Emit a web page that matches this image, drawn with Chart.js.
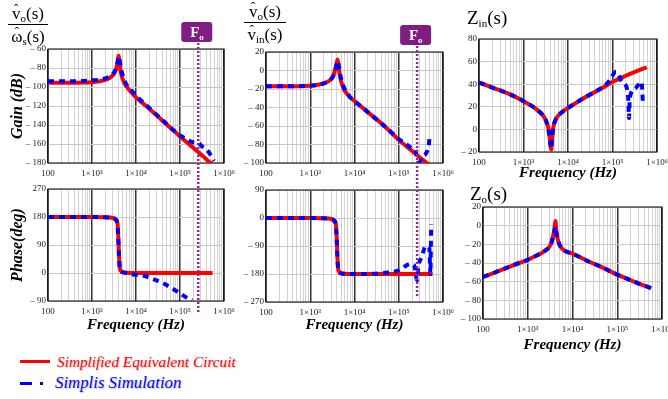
<!DOCTYPE html>
<html lang="en">
  <head>
    <meta charset="utf-8" />
    <style>
      html, body { margin: 0; padding: 0; background: #fff; overflow: hidden; }
      body { position: relative; width: 668px; height: 399px; }
      canvas { position: absolute; }
      .txt { position: absolute; font-family: "Liberation Serif", serif; color: #000; white-space: nowrap; }
      .frac { font-size: 17px; line-height: 17px; text-align: center; }
      .frac .num { border-bottom: 1px solid #000; padding-bottom: 2px; }
      .frac .den { padding-top: 3px; }
      .txt sub { font-size: 11px; line-height: 0; vertical-align: -3px; }
      .hat { position: relative; display: inline-block; }
      .hat::before { content: "\02C6"; position: absolute; left: 0; right: 0; top: -3px; text-align: center; font-size: 13px; line-height: 13px; }
      .name { font-size: 19px; line-height: 19px; }
      .legend { font-style: italic; line-height: 18px; text-shadow: 1px 1px 1.5px rgba(0, 0, 0, 0.25); }
      .swatch { position: absolute; height: 3px; }
    </style>
  </head>
  <body>
    <canvas id="gainWs" width="238" height="178" style="left: 0; top: 0"></canvas>
    <canvas id="gainVin" width="227" height="178" style="left: 230px; top: 0"></canvas>
    <canvas id="zin" width="221" height="182" style="left: 450px; top: 0"></canvas>
    <canvas id="phaseWs" width="238" height="156" style="left: 0; top: 178px"></canvas>
    <canvas id="phaseVin" width="227" height="156" style="left: 230px; top: 178px"></canvas>
    <canvas id="zo" width="226" height="172" style="left: 450px; top: 182px"></canvas>

    <div class="txt frac" style="left: 8px; top: 5px; width: 40px">
      <div class="num"><span class="hat">v</span><sub>o</sub>(s)</div>
      <div class="den"><span class="hat">&#969;</span><sub>s</sub>(s)</div>
    </div>
    <div class="txt frac" style="left: 244px; top: 3px; width: 42px">
      <div class="num"><span class="hat">v</span><sub>o</sub>(s)</div>
      <div class="den"><span class="hat">v</span><sub>in</sub>(s)</div>
    </div>
    <div class="txt name" style="left: 467px; top: 8px">Z<sub>in</sub>(s)</div>
    <div class="txt name" style="left: 470px; top: 184px">Z<sub>o</sub>(s)</div>

    <div class="swatch" style="left: 20px; top: 360px; width: 30px; background: #ff0000"></div>
    <div class="txt legend" style="left: 57px; top: 353px; color: #ff0000; font-size: 15.3px">Simplified Equivalent Circuit</div>
    <div class="swatch" style="left: 20px; top: 382px; width: 12px; background: #0000ff"></div>
    <div class="swatch" style="left: 40px; top: 382px; width: 3px; background: #0000ff"></div>
    <div class="txt legend" style="left: 55px; top: 374px; color: #0000ff; font-size: 16.8px">Simplis Simulation</div>

    <script src="https://cdn.jsdelivr.net/npm/chart.js@4.4.1/dist/chart.umd.min.js"></script>
    <script>
      const FO_FREQ = 2.6e5;
      const xTickValues = [100, 1e3, 1e4, 1e5, 1e6];
      const xTickLabels = ["100", "1×10³", "1×10⁴", "1×10⁵", "1×10⁶"];

      // vo/ws
      const gainWsFreqEq = [100, 300, 1000, 1500, 2000, 2500, 3000, 3300, 3600, 3850, 4000, 4150, 4300, 4600, 5000, 5500, 6000, 7000, 8000, 10000, 15000, 20000, 50000, 100000, 200000, 300000, 550000];
      const gainWsEq = [-95.5, -95.5, -95, -94, -92.5, -90.5, -87.5, -84.5, -79.5, -73, -67, -70, -78, -86, -92, -96, -99, -103, -106, -111, -118, -123, -139.5, -152, -164, -171, -182];
      const gainWsFreqSim = [100, 300, 1000, 2000, 3000, 3500, 3800, 4000, 4200, 4500, 5000, 6000, 8000, 10000, 20000, 50000, 100000, 130000, 180000, 220000, 260000, 300000, 440000, 590000];
      const gainWsSim = [-94, -94, -93, -91, -86, -81, -74, -68, -71, -79, -88, -97, -104, -109, -122, -139, -151, -154, -157.5, -158.5, -159, -161.5, -168, -178];
      const phaseWsFreqEq = [100, 1000, 2000, 3000, 3500, 3800, 3950, 4100, 4250, 4400, 4700, 5200, 6000, 8000, 10000, 100000, 550000];
      const phaseWsEq = [180, 180, 179, 177, 172, 160, 120, 60, 20, 10, 5, 2, 1, 0, 0, 0, 0];
      const phaseWsFreqSim = [100, 1000, 2000, 3000, 3500, 3800, 3950, 4100, 4250, 4400, 4800, 6000, 7300, 10000, 15000, 24000, 42000, 65000, 100000, 140000, 190000];
      const phaseWsSim = [180, 180, 179, 176, 170, 155, 115, 55, 18, 8, 3, 0, -3, -6, -9, -19, -33, -49, -65, -79, -88];

      // vo/vin
      const gainVinFreqEq = [100, 500, 1000, 1500, 2000, 2500, 3000, 3400, 3700, 3950, 4150, 4350, 4600, 5000, 5500, 6000, 7000, 8000, 10000, 13000, 20000, 50000, 100000, 200000, 300000, 550000];
      const gainVinEq = [-17, -17, -16.5, -15.5, -14, -12, -9, -4, 2, 8, 12, 5, -4, -12, -18, -22, -26, -29, -33, -37.5, -45, -61, -75, -87, -94, -104];
      const gainVinFreqSim = [100, 500, 1000, 2000, 3000, 3500, 3800, 4000, 4200, 4500, 5000, 6000, 8000, 10000, 20000, 50000, 100000, 150000, 200000, 240000, 250000, 260000, 290000, 350000, 420000, 480000, 500000];
      const gainVinSim = [-17, -17, -16.5, -14, -9, -3.5, 3, 8, 10, 2, -9, -20, -29, -33, -45, -61, -74, -80, -84, -86, -91, -96, -99, -93, -89, -80, -70];
      const phaseVinFreqEq = [100, 1000, 2000, 3000, 3500, 3800, 3950, 4100, 4250, 4400, 4700, 5200, 6000, 8000, 10000, 100000, 580000];
      const phaseVinEq = [0, 0, -1, -3, -8, -20, -60, -120, -160, -170, -175, -178, -179, -180, -180, -180, -180];
      const phaseVinFreqSim = [100, 1000, 2000, 3000, 3500, 3800, 3950, 4100, 4250, 4400, 4800, 6000, 10000, 30000, 58000, 100000, 160000, 185000, 220000, 260000, 275000, 330000, 410000, 490000, 520000, 530000, 540000];
      const phaseVinSim = [0, 0, -1, -4, -10, -25, -65, -125, -162, -172, -177, -179, -180, -179, -175, -168, -150, -147, -150, -200, -160, -125, -90, -93, -180, -100, -20];

      // Zin
      const zinFreqEq = [100, 200, 500, 1000, 1500, 2000, 2500, 3000, 3400, 3700, 3900, 4050, 4200, 4350, 4500, 4800, 5200, 6000, 7000, 8000, 10000, 20000, 50000, 100000, 200000, 300000, 590000];
      const zinEq = [41.5, 37, 31, 25, 21, 17.5, 14, 10, 5, -1, -8, -15, -18, -10, -3, 4, 8, 12, 14.5, 16.5, 19, 26.5, 35, 42, 47.5, 50.5, 55];
      const zinFreqSim = [100, 200, 500, 1000, 2000, 3000, 3500, 3800, 4000, 4200, 4400, 4700, 5200, 6000, 8000, 10000, 20000, 30000, 53000, 65000, 85000, 120000, 165000, 220000, 230000, 235000, 245000, 320000, 450000, 470000, 480000];
      const zinSim = [41.5, 37, 31, 25, 17.5, 10, 3, -5, -12, -17, -8, 2, 8, 12, 16.5, 19, 26.5, 30.5, 36, 38, 43, 51, 42, 33, 20, 10, 28, 36, 42, 32, 24];

      // Zo
      const zoFreq = [100, 200, 500, 1000, 1500, 2000, 2500, 3000, 3400, 3700, 3950, 4150, 4350, 4600, 5000, 5500, 6500, 8000, 10000, 20000, 50000, 100000, 200000, 300000, 580000];
      const zoEq = [-55, -49.5, -42, -36.5, -32.5, -29.5, -26.5, -23, -18, -11, -3, 5, -5, -13, -19, -23, -26.5, -28.5, -30, -37, -45.5, -52.5, -58.5, -62, -67];
      const zoSim = [-55, -49.5, -42, -36.5, -32.5, -29.5, -26.5, -23, -18, -11, -6, -1, -8, -13, -19, -23, -26.5, -28.5, -30, -37, -45.5, -52.5, -58.5, -62, -67];

      // y ranges: [min, max, step]
      const gainWsRange = [-180, -60, 20];
      const gainVinRange = [-100, 20, 20];
      const zinRange = [-20, 80, 20];
      const phaseWsRange = [-90, 270, 90];
      const phaseVinRange = [-270, 90, 90];
      const zoRange = [-100, 20, 20];

      const SERIF = "'Liberation Serif', 'Times New Roman', serif";
      const tickFont = { family: SERIF, size: 9 };
      const titleFont = { family: SERIF, size: 15, weight: "bold", style: "italic" };

      const gridFreqs = [];
      for (let e = 2; e < 6; e++) {
        for (let m = 1; m < 10; m++) gridFreqs.push(m * Math.pow(10, e));
      }
      gridFreqs.push(1e6);

      function isDecade(v) {
        const l = Math.log10(v);
        return Math.abs(l - Math.round(l)) < 1e-9;
      }

      function toPoints(freqs, vals) {
        return freqs.map((f, i) => ({ x: f, y: vals[i] }));
      }

      function freqScale(height, showTitle) {
        return {
          type: "logarithmic",
          min: 100,
          max: 1e6,
          afterBuildTicks: (scale) => {
            scale.ticks = gridFreqs.map((v) => ({ value: v }));
          },
          afterFit: (scale) => {
            scale.height = height;
            scale.paddingLeft = 0;
            scale.paddingRight = 0;
          },
          ticks: {
            autoSkip: false,
            maxRotation: 0,
            minRotation: 0,
            padding: 5,
            font: tickFont,
            color: "#222",
            callback: (v) => {
              const i = xTickValues.indexOf(v);
              return i >= 0 ? xTickLabels[i] : "";
            },
          },
          grid: {
            drawTicks: false,
            color: (c) => (isDecade(c.tick.value) ? "#333" : "#d2d2d2"),
            lineWidth: (c) => (isDecade(c.tick.value) ? 1.5 : 1),
          },
          border: { display: false },
          title: { display: showTitle, text: "Frequency (Hz)", font: titleFont, color: "#000", padding: 0 },
        };
      }

      function levelScale(range, width, title) {
        return {
          min: range[0],
          max: range[1],
          afterFit: (scale) => {
            scale.width = width;
            scale.paddingTop = 0;
            scale.paddingBottom = 0;
          },
          ticks: {
            stepSize: range[2],
            padding: 2,
            font: tickFont,
            color: "#222",
            callback: (v) => (v < 0 ? "\u2013 " + -v : String(v)),
          },
          grid: { drawTicks: false, color: "#c8c8c8" },
          border: { display: false },
          title: {
            display: !!title,
            text: title || "",
            font: { family: SERIF, size: 16, weight: "bold", style: "italic" },
            color: "#000",
            padding: { top: 8, bottom: 0 },
          },
        };
      }

      const framePlugin = {
        id: "frame",
        beforeDatasetsDraw(chart) {
          const a = chart.chartArea;
          const ctx = chart.ctx;
          ctx.save();
          ctx.strokeStyle = "#000";
          ctx.lineWidth = 1;
          ctx.strokeRect(a.left, a.top, a.right - a.left, a.bottom - a.top);
          ctx.restore();
        },
      };

      // F_o marker: dotted line through the gain and phase plots
      const foPlugin = {
        id: "fo",
        afterDatasetsDraw(chart, args, opts) {
          if (!opts || !opts.mode) return;
          const a = chart.chartArea;
          const ctx = chart.ctx;
          const x = chart.scales.x.getPixelForValue(FO_FREQ);
          let y0 = 0;
          let y1 = a.bottom + (opts.below || 0);
          if (opts.mode === "box") {
            y0 = a.top - 6;
            y1 = chart.height;
          }
          ctx.save();
          ctx.strokeStyle = "#93279a";
          ctx.lineWidth = 2.5;
          ctx.setLineDash([2, 2]);
          ctx.beginPath();
          ctx.moveTo(x, y0);
          ctx.lineTo(x, y1);
          ctx.stroke();
          if (opts.mode === "box") {
            const bx = x - 17;
            const by = a.top - 27;
            ctx.setLineDash([]);
            ctx.fillStyle = "#7e1e82";
            ctx.beginPath();
            if (ctx.roundRect) ctx.roundRect(bx, by, 31, 20, 3);
            else ctx.rect(bx, by, 31, 20);
            ctx.fill();
            ctx.fillStyle = "#fff";
            ctx.textBaseline = "alphabetic";
            ctx.font = "bold 15px " + SERIF;
            ctx.fillText("F", bx + 9, by + 15);
            ctx.font = "bold 9px " + SERIF;
            ctx.fillText("o", bx + 18, by + 18);
          }
          ctx.restore();
        },
      };

      function makeChart(id, cfg) {
        return new Chart(document.getElementById(id), {
          type: "line",
          data: {
            datasets: [
              {
                label: "Simplis Simulation",
                data: toPoints(cfg.simF, cfg.simV),
                borderColor: "#0000ff",
                borderWidth: 4,
                borderDash: [6, 5],
                borderCapStyle: "butt",
              },
              {
                label: "Simplified Equivalent Circuit",
                data: toPoints(cfg.eqF, cfg.eqV),
                borderColor: "#ff0000",
                borderWidth: 4,
              },
            ],
          },
          options: {
            responsive: false,
            animation: false,
            devicePixelRatio: 1,
            layout: { padding: cfg.pad },
            elements: {
              point: { radius: 0 },
              line: { cubicInterpolationMode: "monotone", fill: false },
            },
            scales: {
              x: freqScale(cfg.xh, cfg.xTitle),
              y: levelScale(cfg.range, cfg.yw, cfg.yTitle),
            },
            plugins: {
              legend: { display: false },
              tooltip: { enabled: false },
              fo: cfg.fo || {},
            },
          },
          plugins: [framePlugin, foPlugin],
        });
      }

      makeChart("gainWs", {
        eqF: gainWsFreqEq, eqV: gainWsEq, simF: gainWsFreqSim, simV: gainWsSim,
        range: gainWsRange, pad: { top: 49, right: 14, bottom: 0, left: 0 },
        xh: 15, yw: 48, xTitle: false, yTitle: "Gain (dB)", fo: { mode: "box" },
      });
      makeChart("gainVin", {
        eqF: gainVinFreqEq, eqV: gainVinEq, simF: gainVinFreqSim, simV: gainVinSim,
        range: gainVinRange, pad: { top: 52, right: 14, bottom: 0, left: 0 },
        xh: 15, yw: 36, xTitle: false, yTitle: null, fo: { mode: "box" },
      });
      makeChart("zin", {
        eqF: zinFreqEq, eqV: zinEq, simF: zinFreqSim, simV: zinSim,
        range: zinRange, pad: { top: 39, right: 14, bottom: 0, left: 0 },
        xh: 30, yw: 29, xTitle: true, yTitle: null,
      });
      makeChart("phaseWs", {
        eqF: phaseWsFreqEq, eqV: phaseWsEq, simF: phaseWsFreqSim, simV: phaseWsSim,
        range: phaseWsRange, pad: { top: 11, right: 14, bottom: 0, left: 0 },
        xh: 33, yw: 48, xTitle: true, yTitle: "Phase(deg)", fo: { mode: "line", below: 12 },
      });
      makeChart("phaseVin", {
        eqF: phaseVinFreqEq, eqV: phaseVinEq, simF: phaseVinFreqSim, simV: phaseVinSim,
        range: phaseVinRange, pad: { top: 12, right: 14, bottom: 0, left: 0 },
        xh: 32, yw: 36, xTitle: true, yTitle: null, fo: { mode: "line", below: -6 },
      });
      makeChart("zo", {
        eqF: zoFreq, eqV: zoEq, simF: zoFreq, simV: zoSim,
        range: zoRange, pad: { top: 25, right: 14, bottom: 0, left: 0 },
        xh: 35, yw: 33, xTitle: true, yTitle: null,
      });
    </script>
  </body>
</html>
